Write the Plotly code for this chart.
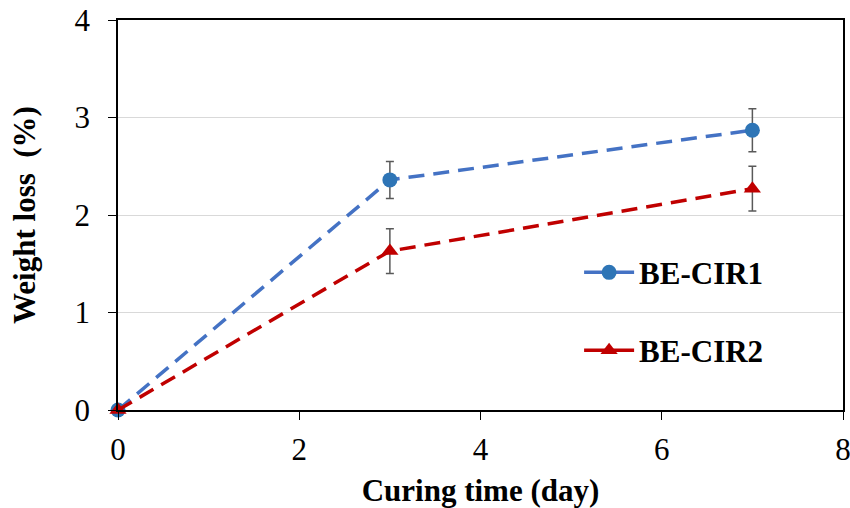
import plotly.graph_objects as go

days = [0, 3, 7]
cir1 = [0, 2.36, 2.87]
cir1_err = [0, 0.19, 0.22]
cir2 = [0, 1.63, 2.27]
cir2_err = [0, 0.23, 0.23]

FONT = "Liberation Serif"
BLUE_LINE, BLUE_MARK = "#4472C4", "#2E75B6"
RED = "#C00000"

fig = go.Figure()
fig.add_trace(go.Scatter(
    x=days, y=cir1, name="<b>BE-CIR1</b>", mode="lines+markers",
    line=dict(color=BLUE_LINE, width=3.5, dash="16px,9px"),
    marker=dict(symbol="circle", size=15, color=BLUE_MARK),
    error_y=dict(type="data", array=cir1_err, color="#595959", thickness=1.5, width=4),
    cliponaxis=False, showlegend=False,
))
fig.add_trace(go.Scatter(
    x=days, y=cir2, name="<b>BE-CIR2</b>", mode="lines+markers",
    line=dict(color=RED, width=3.5, dash="16px,9px"),
    marker=dict(symbol="triangle-up", size=15, color=RED),
    error_y=dict(type="data", array=cir2_err, color="#595959", thickness=1.5, width=4),
    cliponaxis=False, showlegend=False,
))
# legend entries with solid line samples
fig.add_trace(go.Scatter(
    x=[None], y=[None], name="<b>BE-CIR1</b>", mode="lines+markers",
    line=dict(color=BLUE_LINE, width=3.5),
    marker=dict(symbol="circle", size=15, color=BLUE_MARK),
    legend="legend",
))
fig.add_trace(go.Scatter(
    x=[None], y=[None], name="<b>BE-CIR2</b>", mode="lines+markers",
    line=dict(color=RED, width=3.5),
    marker=dict(symbol="triangle-up", size=15, color=RED),
    legend="legend2",
))

axis_common = dict(
    showline=True, linecolor="black", linewidth=1.5, mirror=True,
    ticks="outside", ticklen=8, tickcolor="black", tickwidth=1.2,
    tickfont=dict(family=FONT, size=31, color="black"),
    zeroline=False, automargin=False, ticklabeloverflow="allow",
)
fig.update_xaxes(range=[0, 8], dtick=2, showgrid=False, ticklabelstandoff=3,
                 title=dict(text="<b>Curing time (day)</b>", font=dict(family=FONT, size=31, color="black"), standoff=20),
                 **axis_common)
fig.update_yaxes(range=[0, 4], dtick=1, showgrid=True, gridcolor="#D9D9D9", gridwidth=1.2,
                 ticklabelstandoff=12,
                 title=dict(text="<b>Weight loss  (%)</b>", font=dict(family=FONT, size=31, color="black"), standoff=30),
                 **axis_common)

leg = dict(font=dict(family=FONT, size=31, color="black"), bgcolor="rgba(0,0,0,0)",
           xanchor="left", yanchor="middle", itemwidth=50)
fig.update_layout(
    width=850, height=508,
    margin=dict(l=118, r=7, t=20, b=98),
    plot_bgcolor="white", paper_bgcolor="white",
    legend=dict(x=0.636, y=0.352, **leg),
    legend2=dict(x=0.636, y=0.152, **leg),
    showlegend=True,
)
fig.write_html("out.html")
